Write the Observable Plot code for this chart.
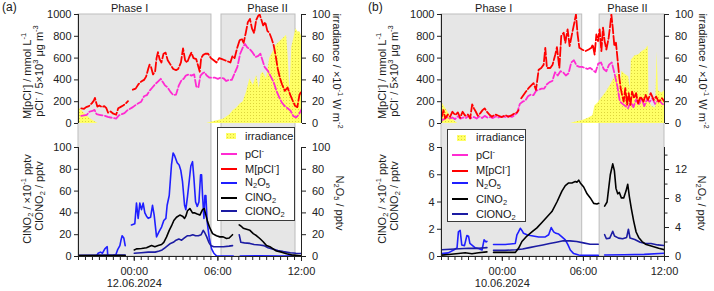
<!DOCTYPE html>
<html><head><meta charset="utf-8">
<script src="https://cdn.jsdelivr.net/npm/d3@7"></script>
<script src="https://cdn.jsdelivr.net/npm/@observablehq/plot@0.6"></script>
<style>
body{margin:0;background:#fff;}
#wrap{position:relative;width:714px;height:291px;overflow:hidden;font-family:'Liberation Sans',Arial,sans-serif;color:#1a1a1a;}
.t{position:absolute;white-space:nowrap;font-size:11px;line-height:12px;}
.rotL{transform:translate(-50%,-50%) rotate(-90deg);}
.rotR{transform:translate(-50%,-50%) rotate(90deg);}
.ctr{transform:translateX(-50%);}
.t sup{font-size:7.5px;vertical-align:5px;line-height:0;}
.t sub{font-size:7.5px;vertical-align:-2px;line-height:0;}
.legend{position:absolute;background:#fff;border:1px solid #3a3a3a;box-sizing:border-box;}
.sw{position:absolute;height:2px;}
</style></head>
<body>
<div id="wrap">
<svg width="0" height="0" style="position:absolute;left:0;top:0">
<defs><pattern id="dots" width="3" height="3" patternUnits="userSpaceOnUse">
<rect width="3" height="3" fill="#ffff66"/><rect x="1" y="1" width="1" height="1" fill="#dcd43c"/></pattern></defs>
</svg>
</div>
<script>
// ---------------- DATA (hours relative to midnight) ----------------
const aDomain = [-4, 12];
const bDomain = [-4.5, 12];
const aPhaseStart = [-4, 6.26], aPhaseEnd = [5.54, 11.57];
const bPhaseStart = [-4.5, 7.2], bPhaseEnd = [5.91, 12];
const phaseNames = ["Phase I", "Phase II"];
const aPhaseLabelAt = [-0.3, 9.6];
const bPhaseLabelAt = [-0.6, 9.3];
const pclTicks = [0, 200, 400, 600, 800, 1000];
const irrTicks = [0, 20, 40, 60, 80, 100];
const aLowTicks = [0, 20, 40, 60, 80, 100];
const bLeftTicks = [0, 2, 4, 6, 8];
const bRightTicks = [0, 4, 8, 12];
const bRightMinor = [2, 6, 10, 14];
const aDateLabel = "12.06.2024", bDateLabel = "10.06.2024";

// Panel (a)
const aM = [[-3.8,138],[-3.6,135],[-3.45,150],[-3.25,160],[-3.05,185],[-2.9,210],[-2.82,235],[-2.75,200],[-2.65,155],[-2.5,165],[-2.3,150],[-2.15,160],[-2.0,140],[-1.88,100],[-1.7,110],[-1.5,90],[-1.3,80],[-1.15,140],[-1.0,150],[-0.8,165],[-0.6,185],[-0.45,205],[-0.3,null],[-0.1,310],[0.1,320],[0.3,360],[0.5,385],[0.7,400],[0.85,430],[1.0,500],[1.1,540],[1.2,520],[1.35,450],[1.5,480],[1.6,600],[1.7,655],[1.82,590],[1.95,560],[2.1,640],[2.25,650],[2.4,580],[2.6,540],[2.8,500],[3.0,490],[3.15,500],[3.35,560],[3.5,690],[3.65,580],[3.8,560],[3.95,610],[4.1,650],[4.25,600],[4.45,590],[4.6,520],[4.7,475],[4.8,600],[4.95,630],[5.1,640],[5.3,640],[5.5,600],[5.7,580],[5.9,560],[6.1,600],[6.3,590],[6.5,580],[6.7,570],[6.9,560],[7.05,620],[7.2,600],[7.4,700],[7.55,760],[7.7,780],[7.85,740],[8.0,830],[8.15,930],[8.3,960],[8.45,870],[8.6,830],[8.75,950],[8.9,990],[9.0,1000],[9.1,960],[9.25,900],[9.4,930],[9.55,850],[9.7,830],[9.85,780],[10.0,720],[10.15,620],[10.3,500],[10.45,420],[10.6,360],[10.8,300],[11.0,330],[11.2,260],[11.4,200],[11.55,160],[11.7,150],[11.85,260],[12.0,300]];
const aP = [[-3.8,70],[-3.6,75],[-3.4,80],[-3.2,110],[-3.0,115],[-2.85,125],[-2.7,85],[-2.5,80],[-2.3,75],[-2.1,70],[-1.9,60],[-1.7,55],[-1.5,50],[-1.3,45],[-1.1,75],[-0.9,85],[-0.7,95],[-0.5,120],[-0.3,135],[-0.1,150],[0.1,170],[0.3,185],[0.5,200],[0.7,250],[0.9,260],[1.1,300],[1.3,330],[1.5,360],[1.7,385],[1.9,410],[2.05,380],[2.2,350],[2.4,330],[2.6,290],[2.8,260],[3.0,265],[3.2,350],[3.4,400],[3.55,410],[3.7,440],[3.9,450],[4.1,440],[4.3,450],[4.45,340],[4.6,330],[4.75,440],[4.9,460],[5.05,470],[5.2,440],[5.4,420],[5.6,420],[5.8,420],[6.0,410],[6.2,420],[6.4,415],[6.6,390],[6.8,400],[7.0,400],[7.2,460],[7.4,520],[7.6,640],[7.8,700],[7.95,730],[8.1,700],[8.3,680],[8.5,650],[8.7,610],[8.9,620],[9.05,640],[9.2,580],[9.35,520],[9.6,480],[9.8,430],[10.0,380],[10.2,300],[10.4,240],[10.6,190],[10.8,160],[11.0,140],[11.2,120],[11.4,70],[11.6,55],[11.8,80],[12.0,130]];
const aIrr = [[-4,15],[-3.7,11],[-3.4,7],[-3.0,3],[-2.6,0],[5.2,0],[5.8,2],[6.4,4],[6.86,8],[7.1,12],[7.34,14],[7.6,18],[7.82,20],[8.06,29],[8.3,41],[8.54,35],[8.78,44],[8.97,32],[9.1,45],[9.25,47],[9.49,41],[9.73,60],[9.97,66],[10.2,72],[10.45,75],[10.7,78],[10.93,81],[11.05,60],[11.17,29],[11.3,70],[11.45,78],[11.6,87],[11.75,84],[11.9,84],[12.0,80]];
const aN2O5 = [[-4,0.6],[-3.0,0.6],[-2.7,0.6],[-2.59,3],[-2.42,4],[-2.28,3],[-2.11,7],[-1.94,9],[-1.9,0.6],[-1.5,0.8],[-1.32,1.5],[-1.2,6],[-1.03,10],[-0.95,15],[-0.87,19],[-0.75,17],[-0.65,10],[-0.5,null],[-0.2,29],[0.04,30],[0.16,49],[0.28,35],[0.4,49],[0.52,43],[0.64,49],[0.76,40],[0.88,37],[1.0,35],[1.17,36],[1.31,47],[1.43,38],[1.6,18],[1.79,23],[1.96,27],[2.12,33],[2.27,35],[2.36,47],[2.51,56],[2.67,84],[2.79,95],[2.91,92],[3.08,86],[3.22,84],[3.34,79],[3.46,69],[3.61,47],[3.7,43],[3.82,55],[3.94,69],[4.06,83],[4.18,87],[4.28,72],[4.4,50],[4.52,46],[4.64,50],[4.76,75],[4.83,75],[4.9,56],[5.0,35],[5.07,56],[5.14,56],[5.23,32],[5.38,17],[5.55,7],[5.71,3],[5.9,0.6],[6.5,0.5],[7.1,0.5],[7.15,null],[7.6,0.5],[9,0.6],[10.5,0.4],[12,0.6]];
const aClNO2 = [[-4,0.8],[-2,0.8],[-0.65,0.9],[-0.5,null],[0.0,6],[0.16,7],[0.52,7.4],[0.88,8],[1.24,10],[1.48,9],[1.72,10],[1.96,11],[2.12,13],[2.32,18],[2.51,24],[2.67,28],[2.84,33],[3.03,36],[3.27,38],[3.46,37],[3.61,35],[3.7,37],[3.82,42],[3.99,44],[4.18,40],[4.35,40],[4.52,39],[4.71,38],[4.9,43],[5.02,44],[5.14,38],[5.26,32],[5.43,26],[5.62,21],[5.9,19],[6.14,18],[6.38,18],[6.62,16.5],[6.81,17],[7.05,20],[7.2,null],[7.53,29],[7.65,28],[7.82,26],[8.06,25],[8.3,24],[8.54,21],[8.78,19],[9.01,16.5],[9.25,13.5],[9.49,10],[9.73,9],[9.97,7],[10.2,5],[10.57,4],[10.93,2.5],[11.29,1.5],[11.65,1],[12,0.6]];
const aClONO2 = [[-4,1.2],[-2,1.3],[-0.65,1.3],[-0.5,null],[0.0,3],[0.5,3.5],[1.0,4],[1.5,4],[1.8,5],[2.0,6],[2.2,8],[2.4,10],[2.6,12],[2.8,13],[3.0,15],[3.2,16],[3.4,15],[3.6,17],[3.8,19],[4.0,19],[4.2,20],[4.4,19],[4.6,19],[4.8,20],[4.95,24],[5.05,22],[5.2,18],[5.35,13],[5.5,10],[5.7,9],[6.0,9],[6.4,9],[6.8,9.5],[7.05,10],[7.2,null],[7.53,20],[7.65,13],[7.9,12.5],[8.3,12],[8.6,11],[9.0,10.5],[9.3,10],[9.6,8],[9.9,7],[10.3,5.5],[10.7,4.5],[11.2,3.5],[11.6,3],[12,2.8]];

// Panel (b)
const bM = [[-4.48,62],[-4.35,123],[-4.23,46],[-4.03,83],[-3.86,62],[-3.69,108],[-3.49,77],[-3.29,102],[-3.12,52],[-2.94,108],[-2.75,71],[-2.55,83],[-2.38,46],[-2.23,176],[-2.1,139],[-1.96,108],[-1.81,71],[-1.64,93],[-1.46,123],[-1.31,139],[-1.14,108],[-0.97,83],[-0.77,62],[-0.52,83],[-0.28,71],[-0.03,59],[0.22,77],[0.46,62],[0.71,77],[0.91,93],[1.1,102],[1.2,123],[1.3,null],[1.4,231],[1.57,262],[1.75,293],[1.94,324],[2.14,349],[2.31,370],[2.49,309],[2.69,494],[2.88,509],[3.06,540],[3.18,694],[3.3,509],[3.55,509],[3.72,540],[3.92,633],[4.04,700],[4.22,509],[4.36,802],[4.54,833],[4.66,741],[4.83,864],[4.98,710],[5.15,818],[5.33,926],[5.45,1000],[5.57,818],[5.7,694],[5.9,679],[6.14,664],[6.39,679],[6.59,694],[6.69,725],[6.83,633],[6.96,818],[7.08,756],[7.2,864],[7.33,664],[7.45,880],[7.57,756],[7.7,679],[7.87,787],[7.99,910],[8.07,1000],[8.17,880],[8.29,710],[8.41,741],[8.54,571],[8.66,417],[8.76,324],[8.86,262],[8.98,201],[9.1,324],[9.23,170],[9.35,278],[9.48,170],[9.6,293],[9.75,231],[9.9,278],[10.04,185],[10.22,247],[10.45,201],[10.59,262],[10.78,216],[10.98,278],[11.2,216],[11.38,247],[11.57,201],[11.82,231],[12.0,201]];
const bP = [[-4.48,30],[-4.3,40],[-4.1,60],[-3.9,45],[-3.7,55],[-3.5,40],[-3.3,65],[-3.1,45],[-2.9,55],[-2.7,50],[-2.5,70],[-2.3,50],[-2.1,60],[-1.9,45],[-1.7,65],[-1.5,50],[-1.3,70],[-1.1,55],[-0.9,60],[-0.7,50],[-0.5,65],[-0.3,55],[-0.1,60],[0.1,65],[0.3,55],[0.5,70],[0.7,60],[0.9,75],[1.1,100],[1.3,180],[1.5,200],[1.7,210],[1.9,250],[2.1,265],[2.3,260],[2.5,300],[2.7,310],[2.9,320],[3.1,320],[3.3,360],[3.5,380],[3.7,390],[3.9,470],[4.1,440],[4.3,480],[4.5,470],[4.7,440],[4.9,460],[5.1,560],[5.3,580],[5.5,530],[5.7,520],[5.9,520],[6.1,510],[6.3,500],[6.5,510],[6.7,490],[6.9,470],[7.1,550],[7.3,560],[7.5,500],[7.7,480],[7.9,540],[8.1,560],[8.3,460],[8.5,350],[8.7,200],[8.9,180],[9.1,160],[9.3,140],[9.5,200],[9.7,150],[9.9,220],[10.1,170],[10.3,230],[10.5,160],[10.7,220],[10.9,200],[11.1,230],[11.3,180],[11.5,210],[11.7,200],[11.9,170],[12.0,180]];
const bIrr = [[-4.5,20],[-4.2,14],[-3.9,8],[-3.6,3],[-3.3,0],[5.05,0],[5.5,1.5],[6.0,3],[6.4,5],[6.7,7],[6.85,16],[7.1,19],[7.4,24],[7.7,29],[8.0,35],[8.3,42],[8.55,46],[8.7,33],[8.85,48],[9.1,45],[9.35,43],[9.45,32],[9.55,58],[9.8,62],[10.1,63],[10.35,66],[10.6,68],[10.8,71],[10.85,21],[11.05,16],[11.35,14],[11.45,66],[11.55,30],[11.8,28],[12.0,30]];
const bN2O5 = [[-4.5,0.4],[-4.0,0.5],[-3.6,0.9],[-3.35,1.2],[-3.25,3.4],[-3.12,3.6],[-3.0,1.6],[-2.8,1.5],[-2.62,2.9],[-2.5,2.8],[-2.4,1.8],[-2.2,1.5],[-2.0,1.2],[-1.76,1.1],[-1.5,0.9],[-1.35,2.3],[-1.2,2.0],[-1.14,2.1],[-1.0,null],[-0.65,1.66],[0.22,1.66],[0.96,1.8],[1.08,3.0],[1.2,3.4],[1.33,3.9],[1.45,3.6],[1.57,3.2],[1.82,3.0],[2.07,2.9],[2.69,2.7],[3.18,2.7],[3.43,3.0],[3.62,4.0],[3.8,3.4],[3.97,3.2],[4.17,3.1],[4.41,2.7],[4.66,2.3],[4.86,1.6],[5.03,0.9],[5.28,0.4],[5.65,0.2],[5.9,0.15],[7.1,0.15],[7.3,null],[7.57,0.2],[9,0.25],[10.5,0.3],[12,0.45]];
const bClNO2 = [[-4.5,0.1],[-3.98,0.15],[-3.24,0.22],[-2.75,0.27],[-2.25,0.2],[-1.76,0.27],[-1.14,0.34],[-1.0,null],[-0.65,0.3],[0.22,0.3],[0.96,0.3],[1.2,0.6],[1.45,1.1],[1.82,1.5],[2.19,1.8],[2.56,2.1],[2.93,2.5],[3.3,2.9],[3.67,3.3],[4.04,4.0],[4.41,4.8],[4.66,5.2],[4.91,5.4],[5.15,5.4],[5.4,5.5],[5.52,5.45],[5.65,5.6],[5.77,5.4],[6.02,5.1],[6.27,4.6],[6.51,4.3],[6.76,3.9],[7.0,3.85],[7.13,3.9],[7.3,null],[7.57,3.7],[7.75,4.0],[7.87,5.0],[7.99,6.0],[8.17,6.8],[8.29,6.3],[8.41,5.0],[8.54,4.6],[8.66,4.7],[8.81,4.3],[8.98,4.3],[9.15,4.8],[9.28,5.3],[9.4,4.4],[9.55,3.5],[9.72,2.6],[9.9,1.8],[10.09,1.4],[10.34,1.1],[10.59,0.9],[11.08,0.75],[11.57,0.6],[12,0.5]];
const bClONO2 = [[-4.5,0.5],[-3.5,0.55],[-2.5,0.6],[-1.76,0.6],[-1.14,0.65],[-1.0,null],[-0.65,0.45],[0.2,0.45],[1.0,0.5],[1.5,0.55],[2.0,0.65],[2.5,0.75],[3.0,0.85],[3.5,0.95],[4.0,1.05],[4.5,1.15],[5.0,1.15],[5.5,1.1],[6.0,1.0],[6.5,0.9],[7.1,0.9],[7.3,null],[7.57,1.6],[7.7,1.3],[7.95,1.35],[8.17,1.85],[8.3,1.5],[8.6,1.35],[8.9,1.3],[9.2,1.4],[9.33,2.0],[9.45,1.35],[9.8,1.25],[10.2,1.05],[10.6,0.95],[11.0,0.95],[11.5,0.85],[12,0.8]];

// ---------------- STYLE ----------------
const W = 714, H = 291;
const C = {M: "#ff0000", P: "#ff2bd2", N2O5: "#1f1fff", ClNO2: "#000000", ClONO2: "#1c1ca3", axis: "#222"};
const STY = "position:absolute;left:0;top:0;background:transparent;overflow:visible;max-width:none;font-family:'Liberation Sans',Arial,sans-serif;font-size:11px;color:#222;";
const TOP = [14, 123], BOT = [147, 256];
const wrap = document.getElementById("wrap");
const X = d => d[0], Y = d => d[1];

function layer(g, yr, ydom, marks, xAxis, noY) {
  const svg = Plot.plot({
    width: W, height: H,
    marginLeft: g.left, marginRight: W - g.right, marginTop: yr[0], marginBottom: H - yr[1],
    x: Object.assign({type: "linear", domain: g.dom}, xAxis ? {} : {axis: null}),
    y: Object.assign({type: "linear", domain: ydom}, noY ? {axis: null} : {}),
    style: STY,
    marks
  });
  wrap.appendChild(svg);
}
function yAxis(anchor, ticks, g, ydom) {
  return [
    Plot.axisY({anchor, ticks, tickSize: 4, tickPadding: anchor === "left" ? 3 : 6.5, label: null, tickFormat: d => String(d), stroke: C.axis, fill: C.axis}),
    Plot.ruleX([anchor === "left" ? g.dom[0] : g.dom[1]], {x: d => d, y1: () => ydom[0], y2: () => ydom[1], stroke: C.axis, strokeWidth: 1})
  ];
}

function panel(g, d) {
  // phase shading
  const ph = g.phaseStart.map((s, i) => ({s, e: g.phaseEnd[i]}));
  layer(g, [TOP[0], BOT[1]], [0, 1], [
    Plot.rect(ph, {x1: "s", x2: "e", y1: () => 0, y2: () => 1, fill: "#e6e6e6", stroke: "#bdbdbd", strokeWidth: 1})
  ], false, true);
  // irradiance (right axis, top)
  layer(g, TOP, [0, 100], [
    Plot.areaY(d.irr, {x: X, y: Y, fill: "url(#dots)", clip: true}),
    ...yAxis("right", irrTicks, g, [0, 100])
  ]);
  // pCl, M[pCl] (left axis, top)
  layer(g, TOP, [0, 1000], [
    Plot.line(d.P, {x: X, y: Y, stroke: C.P, strokeWidth: 1.8, strokeDasharray: "7,2.5", clip: true}),
    Plot.line(d.M, {x: X, y: Y, stroke: C.M, strokeWidth: 1.8, strokeDasharray: "9,2.5", clip: true}),
    ...yAxis("left", pclTicks, g, [0, 1000])
  ]);
  // N2O5 (right axis, bottom)
  const rMarks = [
    Plot.line(d.N2O5, {x: X, y: Y, stroke: C.N2O5, strokeWidth: 1.6, clip: true}),
    ...yAxis("right", g.rTicks, g, g.rDom)
  ];
  if (g.rMinor) rMarks.push(Plot.axisY({anchor: "right", ticks: g.rMinor, tickSize: 2.5, tickFormat: () => "", label: null, stroke: C.axis}));
  layer(g, BOT, g.rDom, rMarks);
  // ClNO2, ClONO2 (left axis, bottom) + time axis
  const minor = d3.range(g.dom[0], g.dom[1] + 0.001, 0.5);
  layer(g, BOT, g.lDom, [
    Plot.line(d.ClONO2, {x: X, y: Y, stroke: C.ClONO2, strokeWidth: 1.6, clip: true}),
    Plot.line(d.ClNO2, {x: X, y: Y, stroke: C.ClNO2, strokeWidth: 1.6, clip: true}),
    ...yAxis("left", g.lTicks, g, g.lDom),
    Plot.ruleY([g.lDom[0]], {y: d => d, x1: () => g.dom[0], x2: () => g.dom[1], stroke: C.axis}),
    Plot.axisX({ticks: minor, tickSize: 4, tickFormat: () => "", label: null, stroke: C.axis}),
    Plot.axisX({ticks: [0, 6, 12], tickSize: 5, tickPadding: 5, label: null, stroke: C.axis, fill: C.axis, lineHeight: 1.1,
      tickFormat: v => v === 0 ? "00:00\n" + g.date : (v === 6 ? "06:00" : "12:00")})
  ], true);
}

const gA = {left: 78, right: 301, dom: aDomain, phaseStart: aPhaseStart, phaseEnd: aPhaseEnd,
  lDom: [0, 100], lTicks: aLowTicks, rDom: [0, 100], rTicks: aLowTicks, date: aDateLabel};
const gB = {left: 441, right: 664, dom: bDomain, phaseStart: bPhaseStart, phaseEnd: bPhaseEnd,
  lDom: [0, 8], lTicks: bLeftTicks, rDom: [0, 15.05], rTicks: bRightTicks, rMinor: bRightMinor, date: bDateLabel};

panel(gA, {M: aM, P: aP, irr: aIrr, N2O5: aN2O5, ClNO2: aClNO2, ClONO2: aClONO2});
panel(gB, {M: bM, P: bP, irr: bIrr, N2O5: bN2O5, ClNO2: bClNO2, ClONO2: bClONO2});

// ---------------- TEXT ----------------
function txt(html, x, y, cls, size) {
  const e = document.createElement("div");
  e.className = "t " + (cls || "");
  e.innerHTML = html;
  e.style.left = x + "px"; e.style.top = y + "px";
  if (size) e.style.fontSize = size + "px";
  wrap.appendChild(e);
  return e;
}
function xpix(g, h) { return g.left + (h - g.dom[0]) / (g.dom[1] - g.dom[0]) * (g.right - g.left); }

[[gA, 0, aPhaseLabelAt, "(a)", 2], [gB, 355, bPhaseLabelAt, "(b)", 368]].forEach(([g, off, lab, pl, plx]) => {
  txt(pl, plx, 1, "", 12);
  phaseNames.forEach((n, i) => txt(n, xpix(g, lab[i]), 2, "ctr"));
  txt("M[pCl<sup>-</sup>] / mmol L<sup>-1</sup>", 27 + off, 76, "rotL");
  txt("pCl<sup>-</sup> / 5×10<sup>3</sup> μg m<sup>-3</sup>", 39 + off, 71, "rotL");
  txt("ClNO<sub>2</sub> / ×10<sup>-1</sup> pptv", 27 + off, 199, "rotL");
  txt("ClONO<sub>2</sub> / pptv", 39 + off, 196, "rotL");
  txt("irradiance / ×10<sup>-1</sup> W m<sup>-2</sup>", (off ? 703 : 337), 71, "rotR");
  txt("N<sub>2</sub>O<sub>5</sub> / pptv", (off ? 702 : 340), 203, "rotR");
});

// ---------------- LEGENDS ----------------
const legendItems = [
  {key: "irr", html: "irradiance"},
  {key: "P", html: "pCl<sup>-</sup>", color: C.P},
  {key: "M", html: "M[pCl<sup>-</sup>]", color: C.M},
  {key: "N2O5", html: "N<sub>2</sub>O<sub>5</sub>", color: C.N2O5},
  {key: "ClNO2", html: "ClNO<sub>2</sub>", color: C.ClNO2},
  {key: "ClONO2", html: "ClONO<sub>2</sub>", color: C.ClONO2}
];
function legend(box, ys, lineX, textX, irrBox) {
  const b = document.createElement("div");
  b.className = "legend";
  Object.assign(b.style, {left: box[0] + "px", top: box[1] + "px", width: box[2] + "px", height: box[3] + "px"});
  wrap.appendChild(b);
  legendItems.forEach((it, i) => {
    const y = ys[i];
    if (it.key === "irr") {
      const s = document.createElementNS("http://www.w3.org/2000/svg", "svg");
      s.setAttribute("width", irrBox[2]); s.setAttribute("height", irrBox[3]);
      s.style.position = "absolute"; s.style.left = irrBox[0] + "px"; s.style.top = irrBox[1] + "px";
      s.innerHTML = `<rect width="${irrBox[2]}" height="${irrBox[3]}" fill="url(#dots)"/>`;
      wrap.appendChild(s);
    } else {
      const l = document.createElement("div");
      l.className = "sw";
      Object.assign(l.style, {left: lineX[0] + "px", width: (lineX[1] - lineX[0]) + "px", top: (y - 1) + "px", background: it.color});
      wrap.appendChild(l);
    }
    txt(it.html, textX, y - 6.5);
  });
}
legend([217, 127, 78, 94], [136, 154, 169, 182.5, 197.5, 211], [221, 237], 245, [226, 133, 10, 6]);
legend([447, 129, 79, 93], [137.5, 155, 170.7, 183.3, 199.3, 214], [452, 468], 476, [457, 135, 9, 6]);
</script>
</body></html>
